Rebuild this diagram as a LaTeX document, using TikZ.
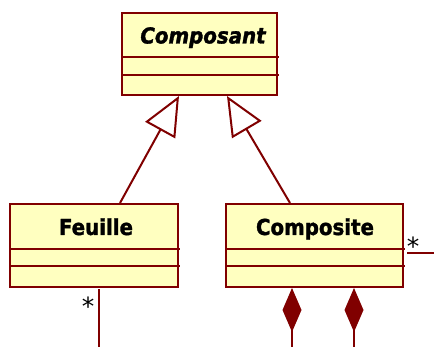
\documentclass[tikz,border=0pt]{standalone}
\usepackage{fontspec}
\setmainfont{DejaVu Sans}
\newfontfamily\classfont{DejaVu Sans}[FakeStretch=0.9, FakeBold=1.5]
\usetikzlibrary{arrows.meta,calc}
\definecolor{umlred}{RGB}{128,0,0}
\definecolor{umlfill}{RGB}{255,255,192}
\begin{document}
\begin{tikzpicture}[x=1pt,y=-1pt,
  classbox/.style={draw=umlred, fill=umlfill, line width=2pt, minimum width=#1, minimum height=83pt, inner sep=0pt},
  sepline/.style={draw=umlred, line width=2pt},
  classname/.style={font=\classfont\fontsize{22}{25}\selectfont\bfseries, text=black, inner sep=0pt, anchor=base},
  link/.style={draw=umlred, line width=2pt},
  inherit/.style={link, -{Triangle[open, length=39pt, width=34pt, fill=white]}},
  compose/.style={link, -{Diamond[length=44pt, width=19pt, fill=umlred]}},
  mult/.style={font=\fontsize{25}{28}\selectfont, text=black, inner sep=0pt}
]
\useasboundingbox (0,0) rectangle (434,347);

% Composant
\node[classbox=155pt, minimum height=82pt] (comp) at (199.5,54) {};
\draw[sepline] ($(comp.north west)+(1,45)$) -- ($(comp.north east)+(1,45)$);
\draw[sepline] ($(comp.north west)+(1,63)$) -- ($(comp.north east)+(1,63)$);
\node[classname, font=\classfont\fontsize{22}{25}\selectfont\bfseries\itshape] (compname) at (203,43.5) {Composant};

% Feuille
\node[classbox=168pt] (feuille) at (94,245.5) {};
\draw[sepline] ($(feuille.north west)+(1,46)$) -- ($(feuille.north east)+(1,46)$);
\draw[sepline] ($(feuille.north west)+(1,63)$) -- ($(feuille.north east)+(1,63)$);
\node[classname] (feuillename) at (96,235) {Feuille};

% Composite
\node[classbox=177pt] (composite) at (314.5,245.5) {};
\draw[sepline] ($(composite.north west)+(1,46)$) -- ($(composite.north east)+(1,46)$);
\draw[sepline] ($(composite.north west)+(1,63)$) -- ($(composite.north east)+(1,63)$);
\node[classname] (compositename) at (315,235) {Composite};

% inheritance
\draw[inherit] ($(feuille.north west)+(111,0)$) -- ($(comp.south west)+(58,0)$);
\draw[inherit] ($(composite.north west)+(65,0)$) -- ($(comp.south west)+(106,0)$);

% Feuille association
\coordinate (fb) at (99,347);
\draw[link] (fb) -- ($(fb |- feuille.south)+(0,1)$);
\node[mult] (m1) at (88,306) {*};

% Composite compositions
\coordinate (d1) at (292,347);
\coordinate (d2) at (354,347);
\draw[compose] (d1) -- (d1 |- composite.south);
\draw[compose] (d2) -- (d2 |- composite.south);

% Composite right association
\coordinate (cr) at (434,253);
\draw[link] (cr) -- ($(cr -| composite.east)+(3,0)$);
\node[mult] (m2) at (413,246) {*};
\end{tikzpicture}
\end{document}
